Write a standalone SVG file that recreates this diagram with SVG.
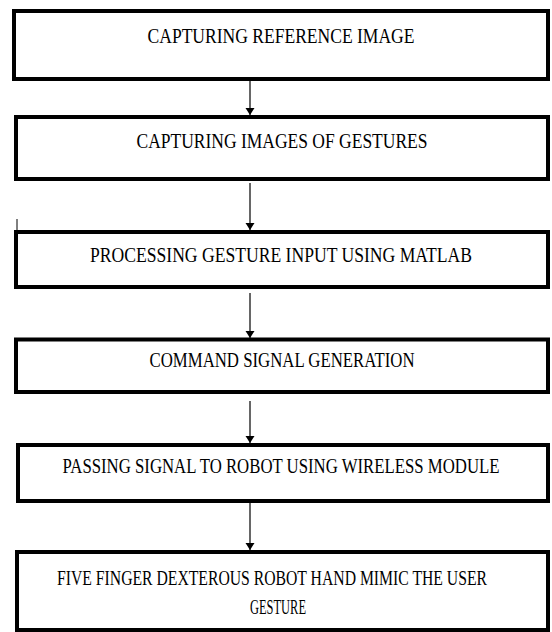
<svg xmlns="http://www.w3.org/2000/svg" width="552" height="632" viewBox="0 0 552 632">
  <defs>
    <marker id="arrow" viewBox="0 0 7 10" refX="7" refY="5" markerWidth="7" markerHeight="10" markerUnits="userSpaceOnUse" orient="auto">
      <path d="M0,0.5 L7,5 L0,9.5 Z" fill="#000"/>
    </marker>
  </defs>
  <style>
    .box { fill: #fff; stroke: #000; stroke-width: 4; }
    .label { font-family: "Liberation Serif", "Times New Roman", "DejaVu Serif", serif; font-size: 21px; fill: #000; text-anchor: middle; }
    .conn { stroke: #000; stroke-width: 1.2; fill: none; }
  </style>
  <rect width="552" height="632" fill="#fff"/>

  <g id="connectors">
    <line class="conn" x1="250" y1="81" x2="250" y2="115" marker-end="url(#arrow)"/>
    <line class="conn" x1="250" y1="183" x2="250" y2="230" marker-end="url(#arrow)"/>
    <line class="conn" x1="250" y1="293" x2="250" y2="338" marker-end="url(#arrow)"/>
    <line class="conn" x1="250" y1="401" x2="250" y2="443" marker-end="url(#arrow)"/>
    <line class="conn" x1="250" y1="503" x2="250" y2="550" marker-end="url(#arrow)"/>
  </g>

  <!-- labels are set in a tall, narrow serif: scaled horizontally, fitted with textLength -->
  <g id="node-capture-reference">
    <rect class="box" x="14" y="11" width="534" height="68"/>
    <text class="label" transform="translate(281,43) scale(0.82,1)" textLength="325.6" lengthAdjust="spacingAndGlyphs">CAPTURING REFERENCE IMAGE</text>
  </g>

  <g id="node-capture-gestures">
    <rect class="box" x="16" y="117" width="532" height="62"/>
    <text class="label" transform="translate(282,148) scale(0.82,1)" textLength="354.9" lengthAdjust="spacingAndGlyphs">CAPTURING IMAGES OF GESTURES</text>
  </g>

  <g id="node-processing">
    <rect class="box" x="16" y="232" width="532" height="55"/>
    <text class="label" transform="translate(281,262) scale(0.82,1)" textLength="465.9" lengthAdjust="spacingAndGlyphs">PROCESSING GESTURE INPUT USING MATLAB</text>
    <line x1="17" y1="219" x2="17" y2="241" stroke="#000" stroke-width="1"/>
  </g>

  <g id="node-command">
    <rect class="box" x="16" y="339.5" width="532" height="52.5"/>
    <text class="label" transform="translate(282,367) scale(0.82,1)" textLength="323.2" lengthAdjust="spacingAndGlyphs">COMMAND SIGNAL GENERATION</text>
  </g>

  <g id="node-wireless">
    <rect class="box" x="18" y="445" width="530" height="56"/>
    <text class="label" transform="translate(281,473) scale(0.82,1)" textLength="532.9" lengthAdjust="spacingAndGlyphs">PASSING SIGNAL TO ROBOT USING WIRELESS MODULE</text>
  </g>

  <g id="node-robot-hand">
    <rect class="box" x="17" y="552" width="531" height="78"/>
    <text class="label" transform="translate(272,585) scale(0.82,1)" textLength="524.4" lengthAdjust="spacingAndGlyphs">FIVE FINGER DEXTEROUS ROBOT HAND MIMIC THE USER</text>
    <text class="label" transform="translate(278,614) scale(0.82,1)" textLength="68.3" lengthAdjust="spacingAndGlyphs">GESTURE</text>
  </g>
</svg>
